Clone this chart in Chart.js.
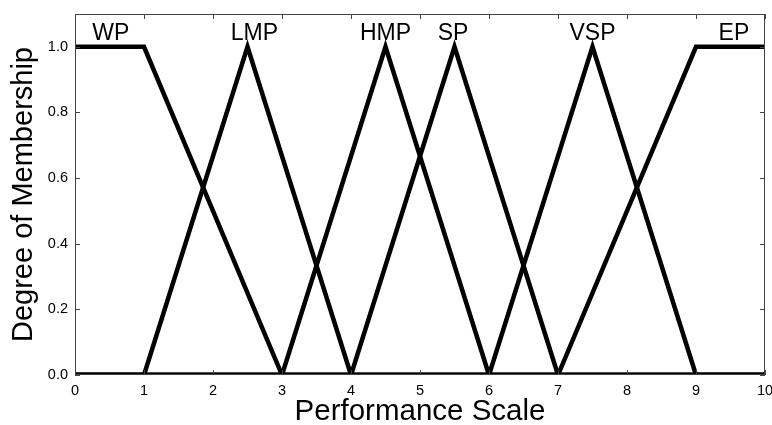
<!DOCTYPE html>
<html lang="en">
  <head>
    <meta charset="UTF-8" />
    <title>Membership functions</title>
    <style>
      body {
        margin: 0;
        background: #fff;
      }
    </style>
  </head>
  <body>
    <canvas id="mfChart" width="772" height="425"></canvas>

    <script src="https://cdn.jsdelivr.net/npm/chart.js"></script>

    <script>
      // membership sets and their break points
      const setNames = ["WP", "LMP", "HMP", "SP", "VSP", "EP"];
      const setX = [
        [0, 1, 3, 10],
        [0, 1, 2.5, 4, 10],
        [0, 3, 4.5, 6, 10],
        [0, 4, 5.5, 7, 10],
        [0, 6, 7.5, 9, 10],
        [0, 7, 9, 10],
      ];
      const setY = [
        [1, 1, 0, 0],
        [0, 0, 1, 0, 0],
        [0, 0, 1, 0, 0],
        [0, 0, 1, 0, 0],
        [0, 0, 1, 0, 0],
        [0, 0, 1, 1],
      ];
      // where the set names sit (x value, baseline y value)
      const nameX = [0.52, 2.6, 4.5, 5.48, 7.5, 9.55];
      const nameY = 1.02;

      const xTicks = [0, 1, 2, 3, 4, 5, 6, 7, 8, 9, 10];
      const yTicks = [0, 0.2, 0.4, 0.6, 0.8, 1.0];

      const font = "'Liberation Sans', Arial, Helvetica, sans-serif";

      const datasets = setNames.map((name, i) => ({
        label: name,
        data: setX[i].map((x, j) => ({ x: x, y: setY[i][j] })),
        borderColor: "#000",
        borderWidth: 4.5,
        pointRadius: 0,
        tension: 0,
        fill: false,
        clip: 0,
      }));

      // box, inward ticks and set names, matlab style
      const matlabFrame = {
        id: "matlabFrame",
        afterDatasetsDraw(chart) {
          const { ctx, chartArea: a, scales } = chart;
          const xs = scales.x;
          const ys = scales.y;
          ctx.save();
          ctx.strokeStyle = "#444";
          ctx.lineWidth = 1;
          ctx.strokeRect(a.left + 0.5, a.top + 0.5, a.width - 1, a.height - 1);
          ctx.beginPath();
          xTicks.forEach((v) => {
            const px = Math.round(xs.getPixelForValue(v)) + 0.5;
            ctx.moveTo(px, a.bottom);
            ctx.lineTo(px, a.bottom - 5);
            ctx.moveTo(px, a.top);
            ctx.lineTo(px, a.top + 5);
          });
          yTicks.forEach((v) => {
            const py = Math.round(ys.getPixelForValue(v)) + 0.5;
            ctx.moveTo(a.left, py);
            ctx.lineTo(a.left + 5, py);
            ctx.moveTo(a.right, py);
            ctx.lineTo(a.right - 5, py);
          });
          ctx.stroke();

          ctx.fillStyle = "#000";
          ctx.font = "23px " + font;
          ctx.textAlign = "center";
          ctx.textBaseline = "alphabetic";
          setNames.forEach((name, i) => {
            ctx.fillText(name, xs.getPixelForValue(nameX[i]), ys.getPixelForValue(nameY));
          });
          ctx.restore();
        },
      };

      const ctx = document.getElementById("mfChart").getContext("2d");

      const mfChart = new Chart(ctx, {
        type: "line",
        data: { datasets: datasets },
        options: {
          responsive: false,
          animation: false,
          devicePixelRatio: 1,
          layout: { padding: { top: 14, right: 7, left: 0, bottom: 0 } },
          plugins: {
            legend: { display: false },
            tooltip: { enabled: false },
          },
          scales: {
            x: {
              type: "linear",
              min: 0,
              max: 10,
              afterFit: (s) => {
                s.height = 50;
                s.paddingLeft = 0;
                s.paddingRight = 0;
              },
              afterBuildTicks: (s) => {
                s.ticks = xTicks.map((v) => ({ value: v }));
              },
              grid: { display: false, drawTicks: false },
              border: { display: false },
              ticks: {
                color: "#000",
                padding: 7,
                maxRotation: 0,
                font: { family: font, size: 14.5 },
              },
              title: {
                display: true,
                text: "Performance Scale",
                color: "#000",
                padding: { top: 0, bottom: -2 },
                font: { family: font, size: 29.5, lineHeight: 1 },
              },
            },
            y: {
              type: "linear",
              min: 0,
              max: 1.1,
              afterFit: (s) => {
                s.width = 75;
                s.paddingTop = 0;
                s.paddingBottom = 0;
              },
              afterBuildTicks: (s) => {
                s.ticks = yTicks.map((v) => ({ value: v }));
              },
              grid: { display: false, drawTicks: false },
              border: { display: false },
              ticks: {
                color: "#000",
                padding: 7,
                callback: (v) => Number(v).toFixed(1),
                font: { family: font, size: 14.5 },
              },
              title: {
                display: true,
                text: "Degree of Membership",
                color: "#000",
                padding: { top: 9.5, bottom: 0 },
                font: { family: font, size: 29, lineHeight: 1 },
              },
            },
          },
        },
        plugins: [matlabFrame],
      });
    </script>
  </body>
</html>
